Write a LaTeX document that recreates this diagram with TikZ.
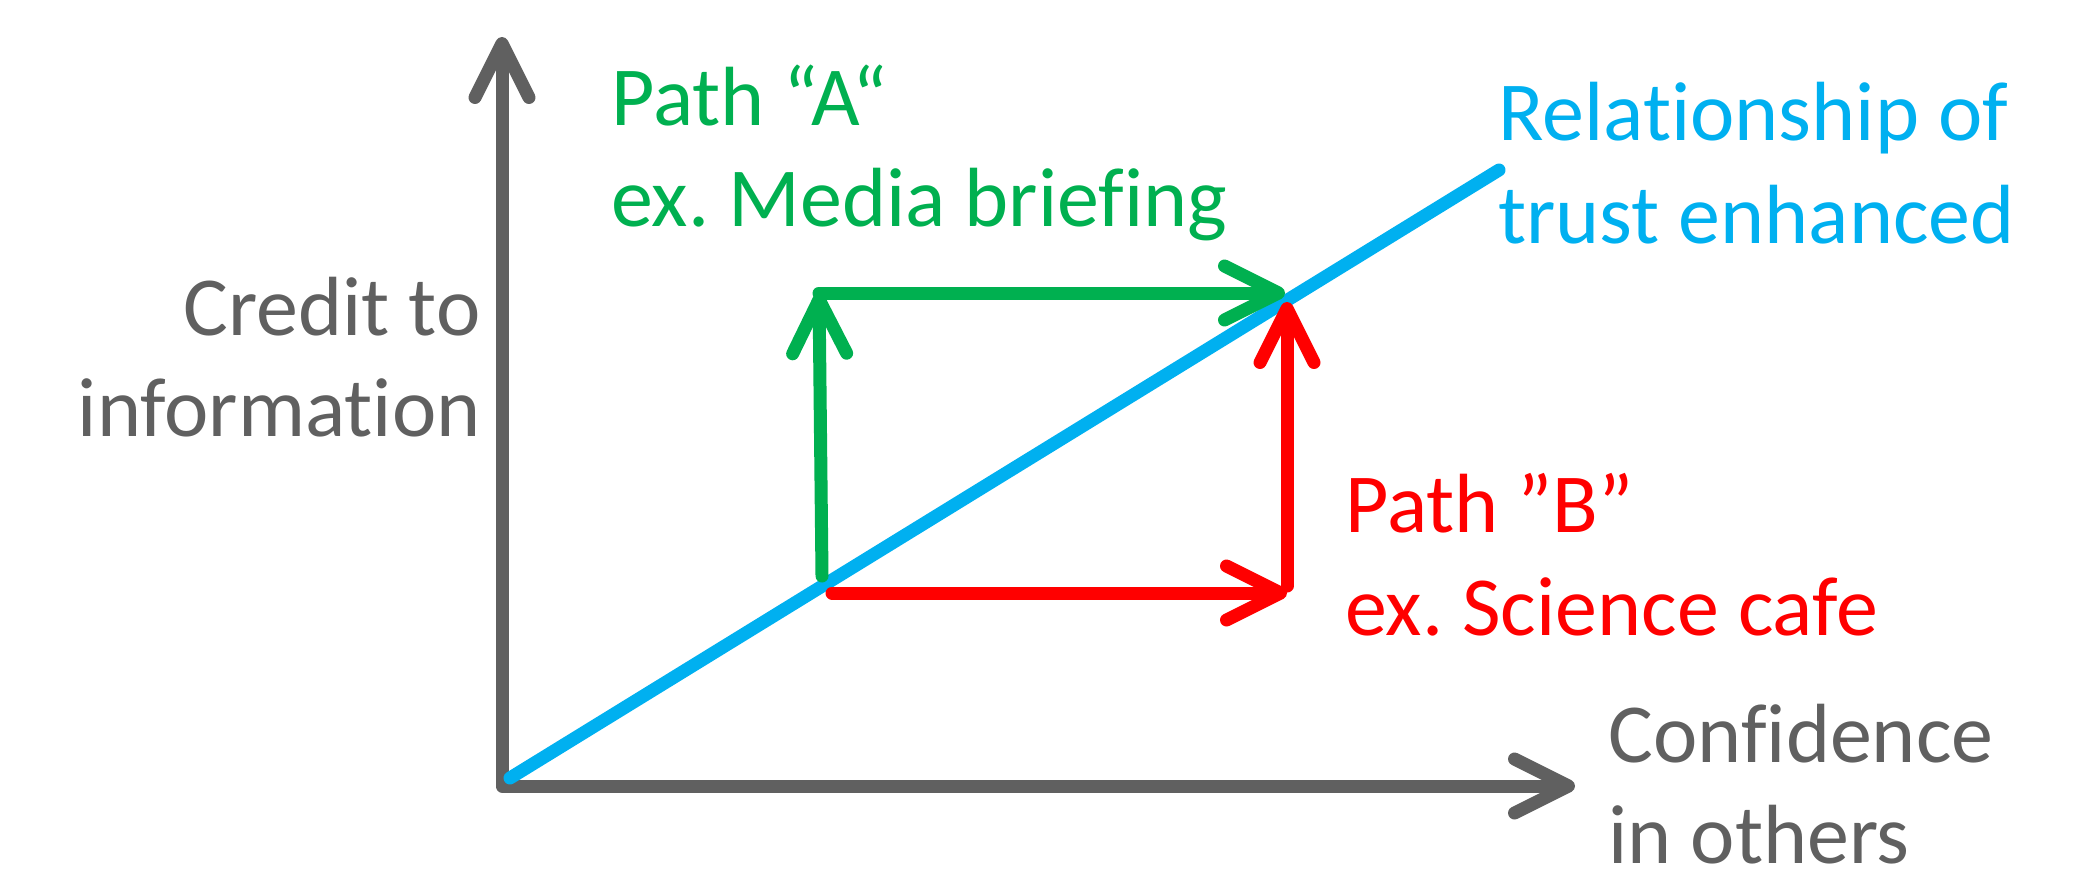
\documentclass[tikz,border=0pt]{standalone}
\usepackage{fontspec}
\setmainfont{Carlito}[Ligatures={NoCommon}]
\usetikzlibrary{arrows.meta}
\definecolor{axisgray}{HTML}{606060}
\definecolor{pathgreen}{HTML}{00B050}
\definecolor{pathred}{HTML}{FF0000}
\definecolor{trustblue}{HTML}{00B0F0}
\frenchspacing
\begin{document}
\begin{tikzpicture}[x=0.5pt,y=-0.5pt,
  barb/.style={-{Straight Barb[length=27pt,width=27pt,round]}},
  thick line/.style={line width=6.5pt,line cap=round,line join=round},
  lbl/.style={inner sep=0pt,font=\fontsize{42pt}{51pt}\selectfont}]
\useasboundingbox (0,0) rectangle (2097,873);
% coordinates
\coordinate (O) at (502,786);
\coordinate (Ytip) at (502,37);
\coordinate (Xtip) at (1575,786);
\coordinate (T0) at (510,778);
\coordinate (T1) at (1499,170);
\coordinate (A0) at (822,576);
\coordinate (A1) at (819,293);
\coordinate (A2) at (1285,293);
\coordinate (B0) at (832,593);
\coordinate (B1) at (1287,593);
\coordinate (B2) at (1287,586);
\coordinate (B3) at (1287,302);
% axes
\draw[axisgray,thick line,{Straight Barb[length=27pt,width=27pt,round]}-{Straight Barb[length=27pt,width=27pt,round]}] (Ytip) -- (O) -- (Xtip);
% trust line
\draw[trustblue,thick line] (T0) -- (T1);
% path A
\draw[pathgreen,thick line,barb] (A0) -- (A1);
\draw[pathgreen,thick line,barb] (A1) -- (A2);
% path B
\draw[pathred,thick line,barb] (B0) -- (B1);
\draw[pathred,thick line,barb] (B2) -- (B3);
% labels
\node[lbl,text=pathgreen,anchor=base west] (la1) at (611,125) {Path “A“};
\node[lbl,text=pathgreen,anchor=base west] (la2) at (611,226) {ex. Media briefing};
\node[lbl,text=axisgray,anchor=base east] (ly1) at (481,335) {Credit to};
\node[lbl,text=axisgray,anchor=base east] (ly2) at (481,436) {information};
\node[lbl,text=trustblue,anchor=base west] (lt1) at (1498,140) {Relationship of};
\node[lbl,text=trustblue,anchor=base west] (lt2) at (1498,243) {trust enhanced};
\node[lbl,text=pathred,anchor=base west] (lb1) at (1345,532) {Path ”B”};
\node[lbl,text=pathred,anchor=base west] (lb2) at (1345,635) {ex. Science cafe};
\node[lbl,text=axisgray,anchor=base west] (lx1) at (1608,762) {Confidence};
\node[lbl,text=axisgray,anchor=base west] (lx2) at (1608,863) {in others};
\end{tikzpicture}
\end{document}
